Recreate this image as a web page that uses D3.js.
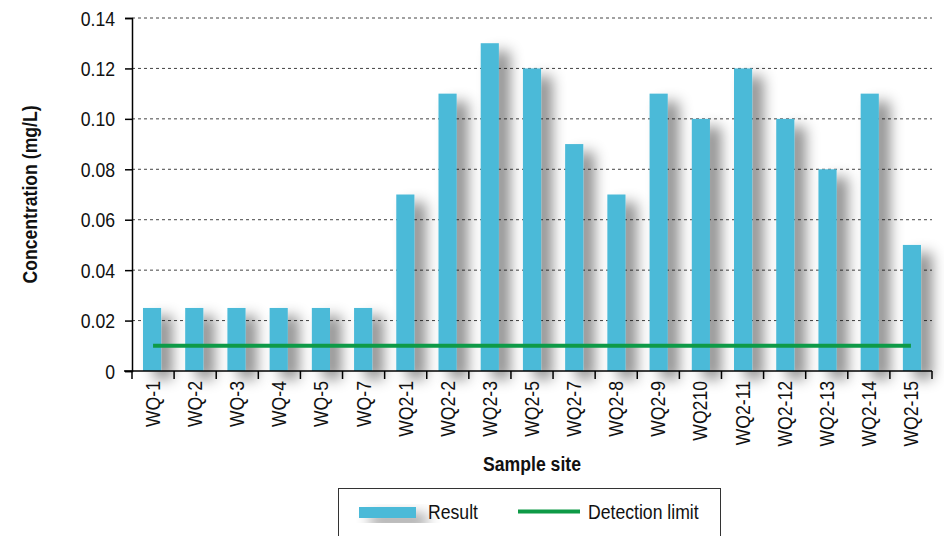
<!DOCTYPE html>
<html>
<head>
<meta charset="utf-8">
<script src="https://cdn.jsdelivr.net/npm/d3@7"></script>
<style>
  html, body { margin: 0; padding: 0; background: #fff; }
  svg { display: block; }
  text { font-family: "Liberation Sans", Arial, sans-serif; fill: #111; }
</style>
</head>
<body>
<svg id="chart" width="944" height="536"></svg>
<script>
// Sample sites along the x axis
const sites = ["WQ-1", "WQ-2", "WQ-3", "WQ-4", "WQ-5", "WQ-7", "WQ2-1", "WQ2-2", "WQ2-3", "WQ2-5",
               "WQ2-7", "WQ2-8", "WQ2-9", "WQ210", "WQ2-11", "WQ2-12", "WQ2-13", "WQ2-14", "WQ2-15"];
// Measured concentration (mg/L)
const results = [0.025, 0.025, 0.025, 0.025, 0.025, 0.025, 0.07, 0.11, 0.13, 0.12,
                 0.09, 0.07, 0.11, 0.10, 0.12, 0.10, 0.08, 0.11, 0.05];
// Laboratory detection limit (mg/L)
const detectionLimit = sites.map(() => 0.01);
const yTicks = [0, 0.02, 0.04, 0.06, 0.08, 0.10, 0.12, 0.14];
const yTickLabels = ["0", "0.02", "0.04", "0.06", "0.08", "0.10", "0.12", "0.14"];

const svg = d3.select("#chart");
const margin = { left: 132, right: 12, top: 18, bottom: 165 };
const W = 944, H = 536;
const FS = "21px";      // label font size
const NARROW = 0.84;    // horizontal condensing of the label font

const x = d3.scaleBand().domain(sites).range([margin.left, W - margin.right]).paddingInner(0.57).paddingOuter(0.26);
const xb = d3.scaleBand().domain(sites).range([margin.left, W - margin.right]);
const y = d3.scaleLinear().domain([0, 0.14]).range([H - margin.bottom, margin.top]);

// condensed text helper: text placed at (tx,ty) with optional rotation
function label(parent, tx, ty, str, opts = {}) {
  const rot = opts.rotate || 0;
  const t = parent.append("text")
    .attr("transform", `translate(${tx},${ty}) rotate(${rot}) scale(${NARROW},1)`)
    .attr("text-anchor", opts.anchor || "start")
    .style("font-size", FS)
    .text(str);
  if (opts.bold) t.style("font-weight", "bold");
  if (opts.dy) t.attr("dy", opts.dy);
  return t;
}

// soft drop shadow under the bars
const defs = svg.append("defs");
const f = defs.append("filter").attr("id", "shadow")
  .attr("x", "-60%").attr("y", "-20%").attr("width", "320%").attr("height", "160%");
f.append("feDropShadow").attr("dx", 11).attr("dy", 8).attr("stdDeviation", 7)
  .attr("flood-color", "#000").attr("flood-opacity", 0.45);

// horizontal dashed gridlines
svg.append("g").selectAll("line").data(yTicks.filter(d => d > 0)).join("line")
  .attr("x1", margin.left).attr("x2", W - margin.right)
  .attr("y1", d => y(d)).attr("y2", d => y(d))
  .attr("stroke", "#444").attr("stroke-width", 1).attr("stroke-dasharray", "3,3");

// bars
svg.append("g").selectAll("rect").data(sites).join("rect")
  .attr("x", d => x(d))
  .attr("y", (d, i) => y(results[i]))
  .attr("width", x.bandwidth())
  .attr("height", (d, i) => y(0) - y(results[i]))
  .attr("fill", "#4bbad8")
  .attr("filter", "url(#shadow)");

// detection limit line
const line = d3.line().x((d, i) => xb(sites[i]) + xb.bandwidth() / 2).y(d => y(d));
svg.append("path").datum(detectionLimit).attr("d", line)
  .attr("fill", "none").attr("stroke", "#0e9a47").attr("stroke-width", 4);

// y axis
const yAxis = d3.axisLeft(y).tickValues(yTicks).tickFormat("").tickSize(7);
const gy = svg.append("g").attr("transform", `translate(${margin.left},0)`).call(yAxis);
gy.select(".domain").attr("stroke", "#000").attr("stroke-width", 1.5);
gy.selectAll(".tick line").attr("stroke", "#000").attr("stroke-width", 1.5);
yTicks.forEach((v, i) => label(svg, 115, y(v), yTickLabels[i], { anchor: "end", dy: "0.36em" }));

// x axis with ticks at band boundaries
const gx = svg.append("g").attr("transform", `translate(0,${y(0)})`);
gx.append("line").attr("x1", margin.left - 8).attr("x2", W - margin.right)
  .attr("stroke", "#000").attr("stroke-width", 1.5);
gx.selectAll("line.tk").data(sites.concat(["end"])).join("line").attr("class", "tk")
  .attr("x1", (d, i) => i < sites.length ? xb(d) : W - margin.right)
  .attr("x2", (d, i) => i < sites.length ? xb(d) : W - margin.right)
  .attr("y1", 0).attr("y2", 8).attr("stroke", "#000").attr("stroke-width", 1.5);
sites.forEach(s => label(gx, xb(s) + xb.bandwidth() / 2 + 7, 10, s, { anchor: "end", rotate: -90 }));

// axis titles
label(svg, 37, (y(0) + y(0.14)) / 2, "Concentration (mg/L)", { anchor: "middle", rotate: -90, bold: true });
label(svg, (margin.left + W - margin.right) / 2, 471, "Sample site", { anchor: "middle", bold: true });

// legend
const lg = svg.append("g");
lg.append("rect").attr("x", 338.5).attr("y", 488.5).attr("width", 382).attr("height", 60)
  .attr("fill", "#fff").attr("stroke", "#333").attr("stroke-width", 1);
lg.append("rect").attr("x", 359).attr("y", 507).attr("width", 57).attr("height", 11)
  .attr("fill", "#4bbad8").attr("filter", "url(#shadow)");
label(lg, 428, 519, "Result");
lg.append("line").attr("x1", 518).attr("x2", 580).attr("y1", 511.5).attr("y2", 511.5)
  .attr("stroke", "#0e9a47").attr("stroke-width", 4);
label(lg, 588, 519, "Detection limit");
</script>
</body>
</html>
